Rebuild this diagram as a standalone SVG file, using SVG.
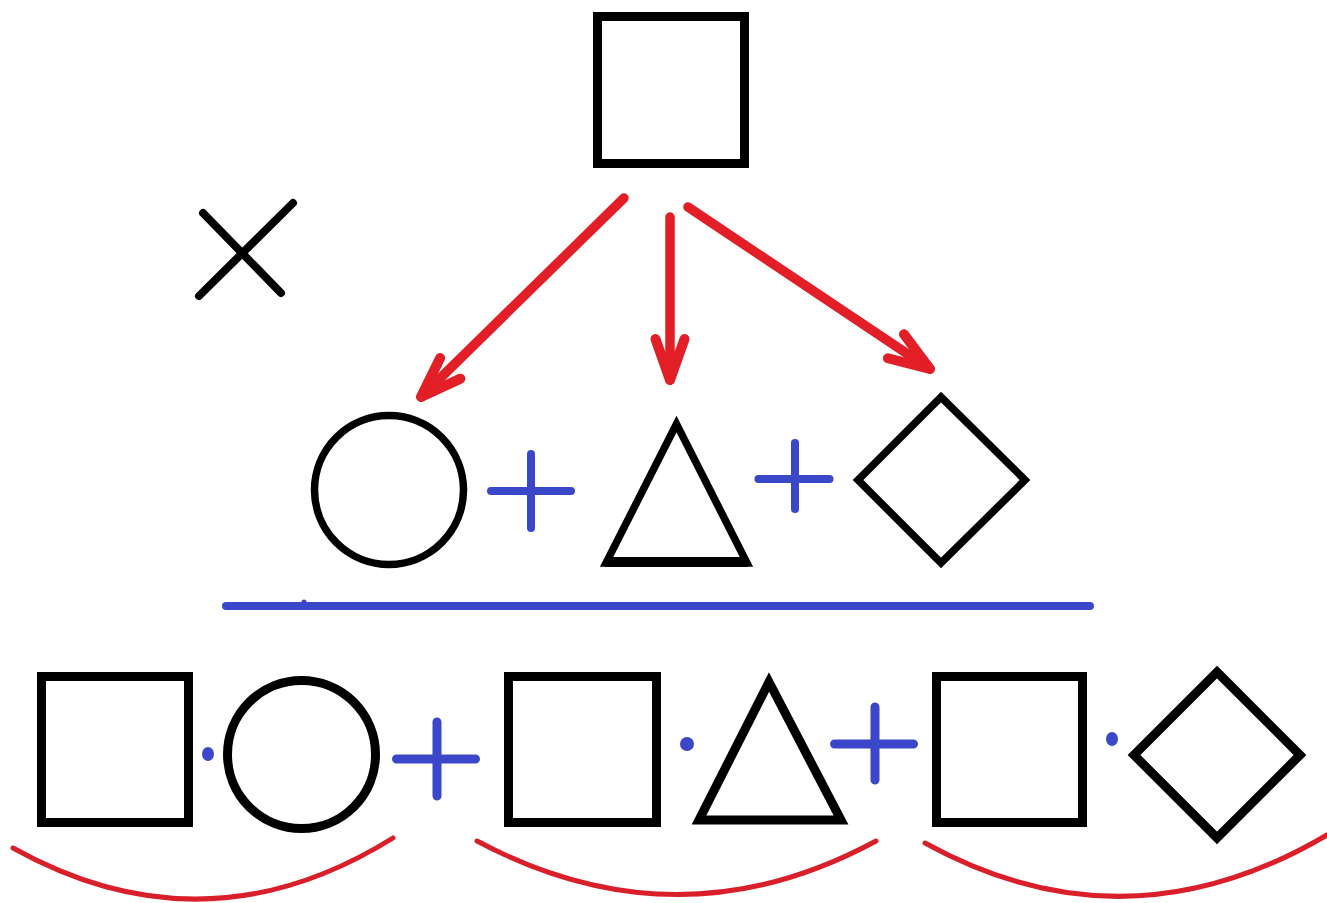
<svg xmlns="http://www.w3.org/2000/svg" width="1327" height="903" viewBox="0 0 1327 903">
  <style>
    .blk { fill: none; stroke: #000; stroke-width: 9; }
    .blk7 { fill: none; stroke: #000; stroke-width: 7.5; }
    .blue { fill: none; stroke: #3a47c9; stroke-linecap: round; }
    .dot { fill: #3a47c9; }
    .arrow { fill: none; stroke: #e21f26; stroke-width: 9.5; stroke-linecap: round; marker-end: url(#head); }
    .brace { fill: none; stroke: #d91f2a; stroke-width: 5; stroke-linecap: round; }
  </style>
  <defs>
    <marker id="head" markerUnits="userSpaceOnUse" viewBox="-50 -30 60 60" markerWidth="60" markerHeight="60" refX="0" refY="0" orient="auto" overflow="visible">
      <path d="M -41,-14.5 L 0,0 L -41,14.5" fill="none" stroke="#e21f26" stroke-width="10" stroke-linecap="round" stroke-linejoin="round"/>
      <path d="M -26,-7 L 0,0 L -26,7 Z" fill="#e21f26"/>
    </marker>
  </defs>
  <rect width="1327" height="903" fill="#fff"/>

  <g id="top-square"><rect class="blk" x="597.5" y="16.5" width="147" height="147"/></g>
  <g id="cross">
    <line x1="203" y1="213" x2="281" y2="293" stroke="#000" stroke-width="8" stroke-linecap="round"/>
    <line x1="293" y1="203" x2="199" y2="296" stroke="#000" stroke-width="8" stroke-linecap="round"/>
  </g>

  <g id="connectors">
    <path class="arrow" d="M624,198 L421,397"/>
    <path class="arrow" d="M670,217 L670,380"/>
    <path class="arrow" d="M688,207 L930,369"/>
  </g>

  <g id="circle-1"><circle class="blk7" cx="389" cy="490" r="74.5"/></g>
  <g id="plus-1"><path class="blue" stroke-width="8" d="M491,491 H571 M531,454 V528"/></g>
  <g id="triangle-1">
    <polygon class="blk7" stroke-linejoin="miter" points="676.5,424 606,563 747,563"/>
    <line x1="605" y1="562" x2="748" y2="562" stroke="#000" stroke-width="10"/>
  </g>
  <g id="plus-2"><path class="blue" stroke-width="8" d="M758.5,479 H829.5 M795,443 V509"/></g>
  <g id="diamond-1"><polygon class="blk7" points="941,397 1025,480 941,563 858,480"/></g>

  <g id="fraction-line">
    <line class="blue" stroke-width="8" x1="226" y1="606" x2="1090" y2="606"/>
    <circle class="dot" cx="304" cy="602" r="2.5"/>
  </g>

  <g id="square-2"><rect class="blk" x="41.5" y="676.5" width="147" height="146"/></g>
  <g id="dot-1"><ellipse class="dot" cx="208" cy="754" rx="6" ry="7"/></g>
  <g id="circle-2"><circle class="blk" stroke-width="8" cx="301.5" cy="754.5" r="74"/></g>
  <g id="plus-3"><path class="blue" stroke-width="9" d="M396.5,759 H475.5 M437,722 V796"/></g>
  <g id="square-3"><rect class="blk" x="508.5" y="676.5" width="148" height="146"/></g>
  <g id="dot-2"><circle class="dot" cx="687" cy="744" r="7"/></g>
  <g id="triangle-2"><polygon class="blk" stroke-linejoin="miter" points="769,682 699,820 841,820"/></g>
  <g id="plus-4"><path class="blue" stroke-width="9" d="M834.5,744 H913.5 M875,707 V780"/></g>
  <g id="square-4"><rect class="blk" x="936.5" y="676.5" width="146" height="146"/></g>
  <g id="dot-3"><ellipse class="dot" cx="1112" cy="739" rx="6" ry="7"/></g>
  <g id="diamond-2"><polygon class="blk" points="1217,672 1300,755 1217,838 1134,755"/></g>

  <g id="braces">
    <path class="brace" d="M13,848 Q205,955 393,838"/>
    <path class="brace" d="M477,841 Q678,948 876,841"/>
    <path class="brace" d="M925,843 Q1128,955 1332,832"/>
  </g>
</svg>
